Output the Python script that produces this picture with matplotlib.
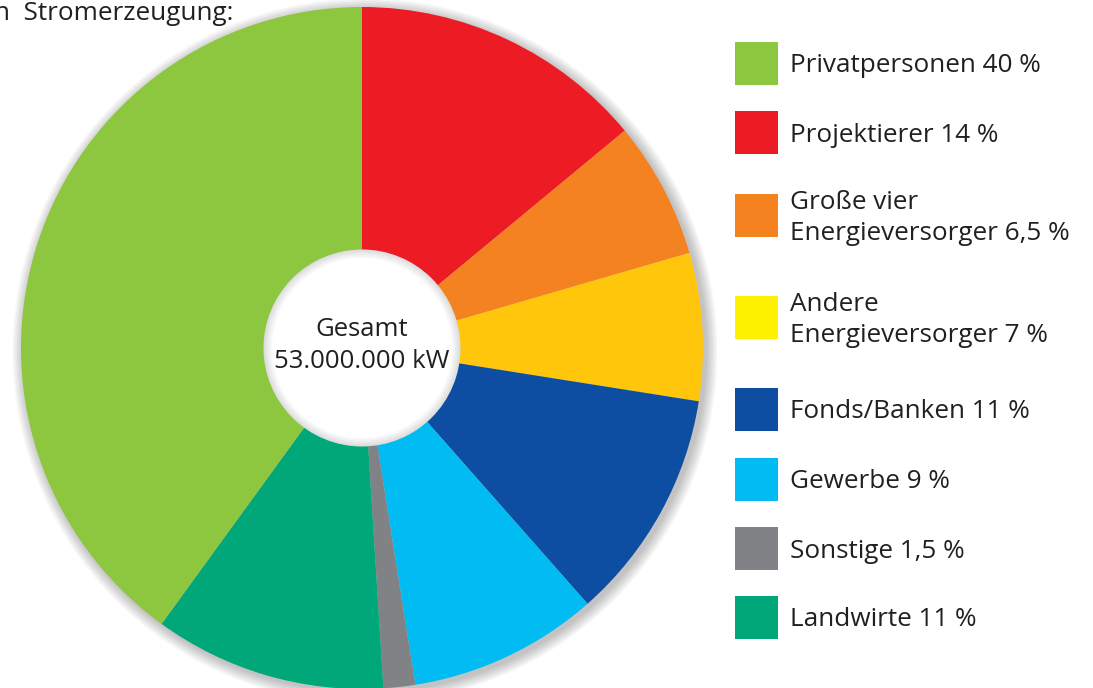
import matplotlib
matplotlib.use("Agg")
import matplotlib.pyplot as plt
from matplotlib.patches import Rectangle, Circle, Wedge

plt.rcParams['font.family'] = ['Open Sans', 'DejaVu Sans']

# data, clockwise from the top
labels = ['Projektierer 14 %', 'Große vier\nEnergieversorger 6,5 %', 'Andere\nEnergieversorger 7 %',
          'Fonds/Banken 11 %', 'Gewerbe 9 %', 'Sonstige 1,5 %', 'Landwirte 11 %', 'Privatpersonen 40 %']
shares = [14, 6.5, 7, 11, 9, 1.5, 11, 40]
pie_colors = ['#ED1C24', '#F58220', '#FFC60B', '#0D4EA2', '#00BCF2', '#808285', '#00A779', '#8DC63F']
legend_colors = ['#ED1C24', '#F58220', '#FFF200', '#0D4EA2', '#00BCF2', '#808285', '#00A779', '#8DC63F']
# legend order as in the picture
legend_order = [7, 0, 1, 2, 3, 4, 5, 6]

W, H = 1093, 688
fig = plt.figure(figsize=(W / 100, H / 100), dpi=100)
ax = fig.add_axes([0, 0, 1, 1])

cx, cy = 362, H - 348
R, r_in = 341, 98
txt = '#231F20'

# soft shadow around the ring
for i in range(8):
    ax.add_patch(Circle((cx + 3, cy - 3), R + 1 + i * 1.5, color='black', alpha=0.03, lw=0, zorder=0))

ax.pie(shares, colors=pie_colors, startangle=90, counterclock=False,
       radius=R, center=(cx, cy), wedgeprops=dict(width=R - r_in, linewidth=0))

# white hole with a soft inner shadow
ax.add_patch(Circle((cx, cy), r_in + 0.5, color='white', lw=0, zorder=2))
for i in range(6):
    ax.add_patch(Wedge((cx, cy), r_in + 0.5, 0, 360, width=1 + i * 1.5, color='black', alpha=0.025, lw=0, zorder=3))

ax.text(cx, H - 329, 'Gesamt', ha='center', va='center', fontsize=18.5, color=txt, zorder=4)
ax.text(cx, H - 361, '53.000.000 kW', ha='center', va='center', fontsize=18.5, color=txt, zorder=4)

ax.text(-6, H - 20, 'n  Stromerzeugung:', ha='left', va='baseline', fontsize=18.8, color=txt)

# legend
legend_y = [63, 132, 215, 317, 409, 479, 548, 617]
for yc, k in zip(legend_y, legend_order):
    ax.add_patch(Rectangle((735, H - yc - 21.5), 43, 43, color=legend_colors[k], lw=0))
    ax.text(790, H - yc - 3, labels[k], ha='left', va='center', fontsize=18.8,
            color=txt, linespacing=1.35)

ax.set_xlim(0, W)
ax.set_ylim(0, H)
ax.set_aspect('equal')
ax.axis('off')
fig.savefig('out.png', dpi=100)
